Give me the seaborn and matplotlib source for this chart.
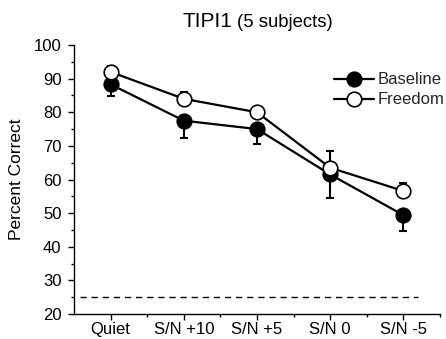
import numpy as np
import pandas as pd
import matplotlib
matplotlib.use("Agg")
import matplotlib.pyplot as plt
from matplotlib.ticker import MultipleLocator, FixedLocator
import seaborn as sns

conditions = ["Quiet", "S/N +10", "S/N +5", "S/N 0", "S/N -5"]
baseline = [88.3, 77.5, 75.0, 61.5, 49.4]
baseline_err = [3.4, 5.2, 4.5, 7.1, 4.6]     # drawn downward
freedom = [92.0, 84.0, 80.0, 63.5, 56.6]
freedom_err = [1.8, 2.1, 1.5, 5.1, 2.3]      # drawn upward
chance = 25

sns.set_theme(style="ticks")
plt.rcParams["font.family"] = ["Liberation Sans", "DejaVu Sans"]

pos = np.arange(len(conditions))
df = pd.DataFrame({"pos": np.concatenate([pos, pos]),
                   "val": baseline + freedom,
                   "cond": ["Baseline"] * 5 + ["Freedom"] * 5})

fig = plt.figure(figsize=(4.46, 3.39), dpi=100)
ax = fig.add_axes([0.166, 0.0737, 0.8205, 0.7935])

zeros = np.zeros(len(pos))
eb1 = ax.errorbar(pos, baseline, yerr=[baseline_err, zeros], fmt="none",
                  ecolor="black", elinewidth=1.5, capsize=3, capthick=1.5, zorder=2)
eb1[1][1].set_visible(False)
eb2 = ax.errorbar(pos, freedom, yerr=[zeros, freedom_err], fmt="none",
                  ecolor="black", elinewidth=1.5, capsize=3, capthick=1.5, zorder=2)
eb2[1][0].set_visible(False)

sns.lineplot(data=df[df.cond == "Baseline"], x="pos", y="val", ax=ax,
             color="black", linewidth=1.6, marker="o", markersize=10.5,
             markerfacecolor="black", markeredgecolor="black", markeredgewidth=1.2,
             label="Baseline", zorder=3)
sns.lineplot(data=df[df.cond == "Freedom"], x="pos", y="val", ax=ax,
             color="black", linewidth=1.6, marker="o", markersize=10.5,
             markerfacecolor="white", markeredgecolor="black", markeredgewidth=1.2,
             label="Freedom", zorder=4)

ax.hlines(chance, -0.42, 4.2, colors="black", linestyles=(0, (4.5, 3.5)), linewidth=1.0)

ax.set_xlim(-0.5, 4.5)
ax.set_ylim(20, 100)
ax.set_xticks(pos)
ax.set_xticklabels(conditions)
ax.xaxis.set_minor_locator(FixedLocator(pos + 0.5))
ax.yaxis.set_major_locator(MultipleLocator(10))
ax.yaxis.set_minor_locator(MultipleLocator(5))
ax.tick_params(axis="both", which="major", direction="out", length=4, width=1,
               labelsize=12, color="black", labelcolor="black")
ax.tick_params(axis="x", which="major", pad=2)
ax.tick_params(axis="y", which="major", pad=5)
ax.tick_params(axis="both", which="minor", direction="out", length=2.5, width=1,
               color="black")
for s in ["left", "bottom"]:
    ax.spines[s].set_color("black")
    ax.spines[s].set_linewidth(1)
sns.despine(ax=ax)
ax.set_xlabel("")
ax.set_ylabel("Percent Correct", fontsize=12.5, color="black", labelpad=7)

ax.text(0.432, 1.067, "TIPI1", transform=ax.transAxes, ha="right", va="baseline",
        fontsize=15, color="black")
ax.text(0.445, 1.067, "(5 subjects)", transform=ax.transAxes, ha="left", va="baseline",
        fontsize=13.3, color="black")

ax.legend(loc="upper left", bbox_to_anchor=(0.71, 0.898), frameon=False,
          fontsize=12, handlelength=2.4, handletextpad=0.25, labelspacing=0.3,
          borderpad=0, borderaxespad=0)

fig.savefig("out.png", dpi=100)
